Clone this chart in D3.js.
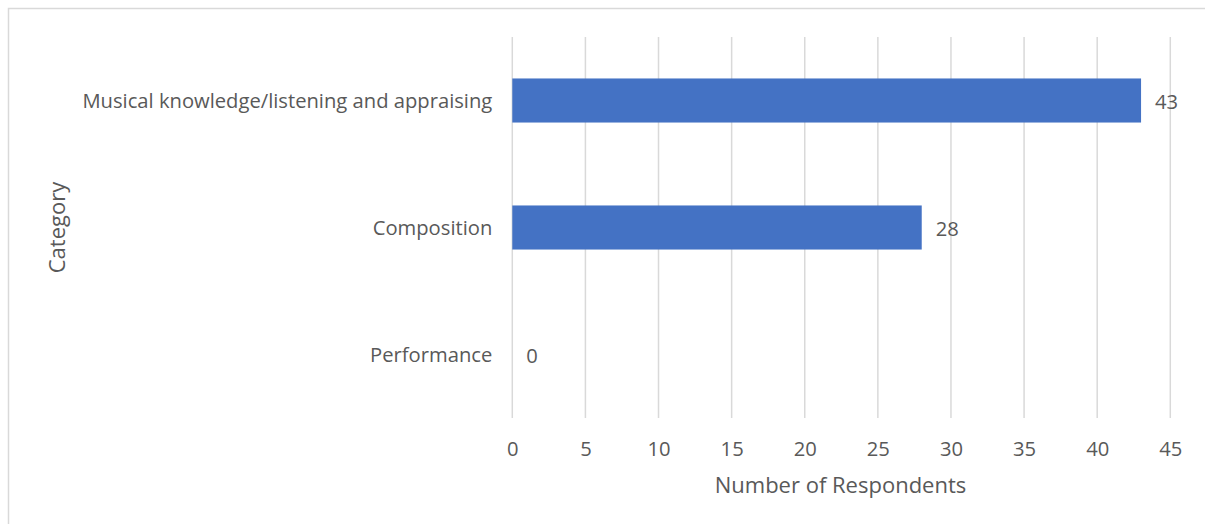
<!DOCTYPE html>
<html><head><meta charset="utf-8">
<script src="https://cdn.jsdelivr.net/npm/d3@7"></script>
<style>body{margin:0;background:#fff;} text{font-family:"Open Sans", sans-serif;}</style>
</head><body><svg id="c" width="1205" height="524"></svg>
<script>
const categories = ["Musical knowledge/listening and appraising", "Composition", "Performance"];
const values = [43, 28, 0];
const xTicks = [0, 5, 10, 15, 20, 25, 30, 35, 40, 45];
const xTitle = "Number of Respondents";
const yTitle = "Category";

const svg = d3.select("#c");
svg.append("rect").attr("x", 8.5).attr("y", 8.5).attr("width", 1210).attr("height", 530)
  .attr("fill", "none").attr("stroke", "#d9d9d9").attr("stroke-width", 1.5);

const m = {left: 512.3, right: 1170.3, top: 37, bottom: 418};
const x = d3.scaleLinear().domain([0, 45]).range([m.left, m.right]);
const y = d3.scaleBand().domain(categories).range([m.top, m.bottom]).paddingInner(0.653).paddingOuter(0.3265);
const textColor = "#595959";
const fs = 20.2;
const fsTitle = 22;

// gridlines
svg.append("g").selectAll("line").data(xTicks).join("line")
  .attr("x1", d => x(d)).attr("x2", d => x(d)).attr("y1", m.top).attr("y2", m.bottom)
  .attr("stroke", "#d9d9d9").attr("stroke-width", 1.5);

// x axis labels
const xAxis = d3.axisBottom(x).tickValues(xTicks).tickSize(0).tickPadding(0);
const gx = svg.append("g").attr("transform", `translate(0,${m.bottom})`).call(xAxis);
gx.select(".domain").remove();
gx.selectAll("text").attr("fill", textColor).attr("font-size", fs).attr("font-family", "Open Sans")
  .attr("y", 38).attr("dy", null);

// y axis labels
const yAxis = d3.axisLeft(y).tickSize(0).tickPadding(20);
const gy = svg.append("g").attr("transform", `translate(${m.left},0)`).call(yAxis);
gy.select(".domain").remove();
gy.selectAll("text").attr("fill", textColor).attr("font-size", fs).attr("font-family", "Open Sans")
  .attr("dy", null).attr("y", 7.5);

// bars
svg.append("g").selectAll("rect").data(categories).join("rect")
  .attr("x", x(0)).attr("y", (d) => y(d))
  .attr("width", (d, i) => x(values[i]) - x(0)).attr("height", y.bandwidth())
  .attr("fill", "#4472c4");

// data labels
svg.append("g").selectAll("text").data(categories).join("text")
  .attr("x", (d, i) => x(values[i]) + 14).attr("y", d => y(d) + y.bandwidth() / 2 + 8)
  .attr("fill", textColor).attr("font-size", fs)
  .text((d, i) => values[i]);

svg.append("text").attr("x", 840.5).attr("y", 493)
  .attr("text-anchor", "middle").attr("fill", textColor).attr("font-size", fsTitle).text(xTitle);
svg.append("text").attr("transform", `translate(64.5,227.5) rotate(-90)`)
  .attr("text-anchor", "middle").attr("fill", textColor).attr("font-size", fsTitle).text(yTitle);
</script></body></html>
